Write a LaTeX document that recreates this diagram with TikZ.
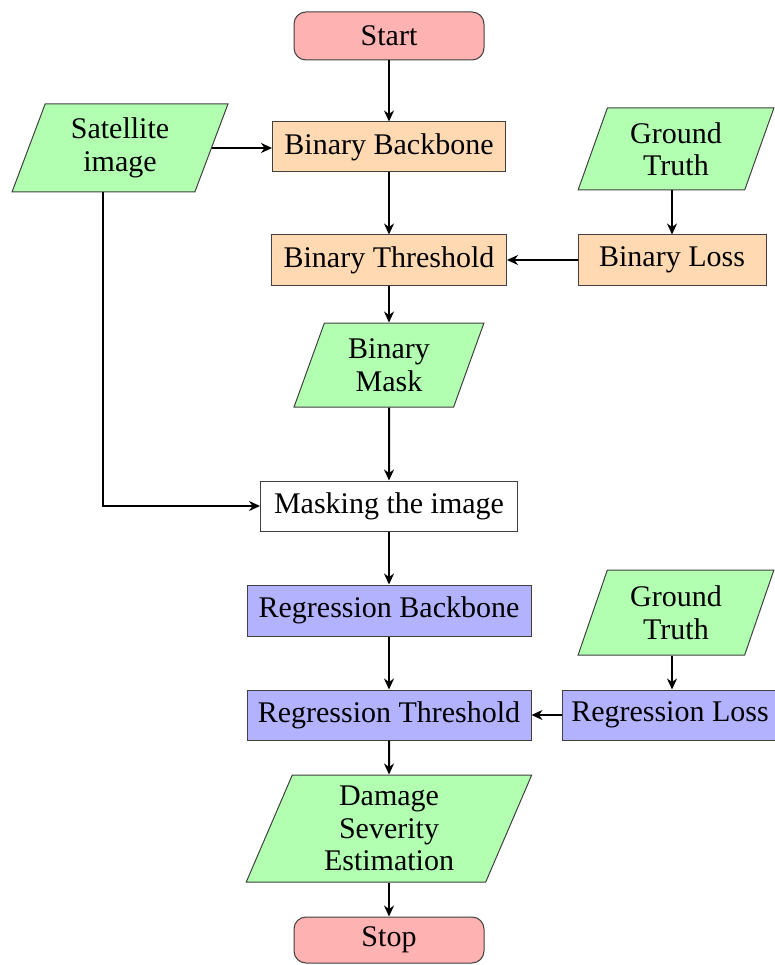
\documentclass[tikz,border=0pt]{standalone}
\usepackage{fontspec}
\setmainfont{Liberation Serif}
\usetikzlibrary{shapes.geometric,arrows.meta}
\begin{document}
\begin{tikzpicture}[x=1pt,y=-1pt,
 base/.style={draw=black!75, line width=1pt, align=center, inner sep=0pt, font=\fontsize{30}{32.5}\selectfont},
 term/.style={base, rectangle, rounded corners=12pt, fill=red!30},
 io/.style={base, trapezium, trapezium left angle=70, trapezium right angle=110, trapezium stretches=true, fill=green!30},
 proc/.style={base, rectangle},
 arr/.style={line width=2pt, -{Stealth[length=11pt,width=10pt]}}]
\useasboundingbox (0,0) rectangle (775,965);
\node[term, minimum width=190, minimum height=48] (start) at (389,36) {Start};
\node[proc, fill=orange!30, minimum width=233, minimum height=50] (bb) at (389,147) {Binary Backbone};
\node[io, minimum width=216, minimum height=88] (sat) at (120,148) {Satellite\\image};
\node[io, minimum width=196, minimum height=82] (gt1) at (676,149) {Ground\\Truth};
\node[proc, fill=orange!30, minimum width=235, minimum height=50] (bt) at (389,260) {Binary Threshold};
\node[proc, fill=orange!30, minimum width=188, minimum height=50] (bl) at (672,260) {Binary Loss};
\node[io, minimum width=190, minimum height=84] (mask) at (389,365) {Binary\\Mask};
\node[proc, fill=white, minimum width=257, minimum height=50] (mi) at (389,506) {Masking the image};
\node[proc, fill=blue!30, minimum width=284, minimum height=51] (rb) at (389,610.5) {Regression Backbone};
\node[io, minimum width=196, minimum height=85] (gt2) at (676,612.5) {Ground\\Truth};
\node[proc, fill=blue!30, minimum width=284, minimum height=50] (rt) at (389,715) {Regression Threshold};
\node[proc, fill=blue!30, minimum width=216, minimum height=50] (rl) at (670,715) {Regression Loss};
\node[io, minimum width=286, minimum height=107] (dse) at (389,828.5) {Damage\\Severity\\Estimation};
\node[term, minimum width=190, minimum height=46] (stop) at (389,940) {Stop};
\draw[arr] (start) -- (bb);
\draw[arr] (sat.right side) -- (sat.right side -| bb.west);
\draw[arr] (bb) -- (bt);
\draw[arr] (bl.north |- gt1.bottom side) -- (bl.north);
\draw[arr] (bl) -- (bt);
\draw[arr] (bt) -- (mask);
\draw[arr] (mask) -- (mi);
\draw[arr] (sat.bottom side) |- (mi.west);
\draw[arr] (mi) -- (rb);
\draw[arr] (rb) -- (rt);
\draw[arr] ([xshift=2pt]rl.north |- gt2.bottom side) -- ([xshift=2pt]rl.north);
\draw[arr] (rl) -- (rt);
\draw[arr] (rt) -- (dse);
\draw[arr] (dse) -- (stop);
\end{tikzpicture}
\end{document}
